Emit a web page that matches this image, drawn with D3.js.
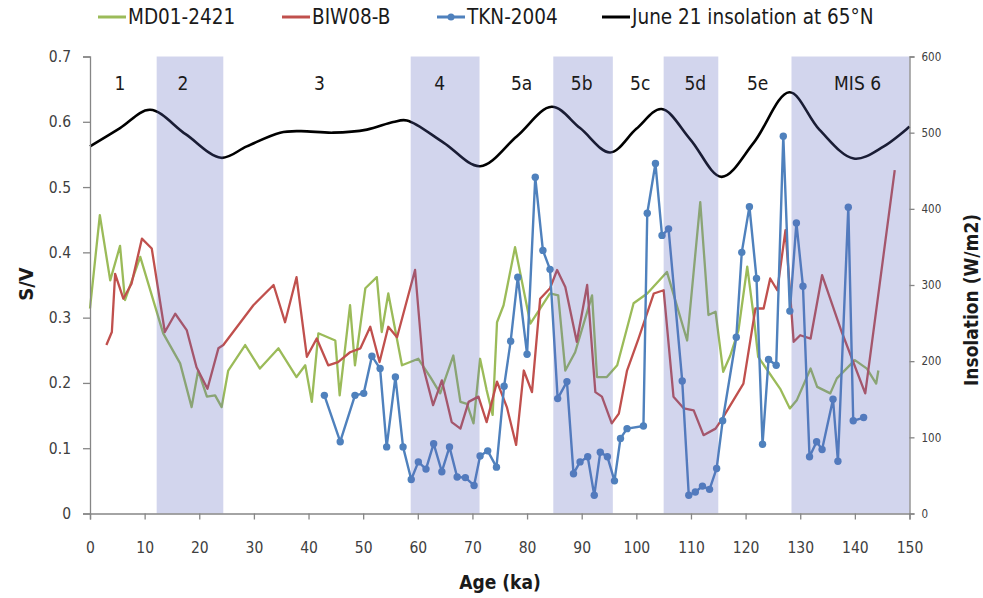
<!DOCTYPE html>
<html><head><meta charset="utf-8">
<script src="https://cdn.jsdelivr.net/npm/d3@7"></script>
<style>
body{margin:0;background:#fff;}
text{font-family:"Liberation Sans Narrow","DejaVu Sans Condensed","Roboto",sans-serif;}
</style></head>
<body><svg id="c" width="983" height="598"></svg>
<script>
// ---- data ----
const mdAge = [0,1.8,3.7,5.5,6.4,9.2,13.4,16.5,18.6,19.8,21.4,22.9,24.1,25.3,28.4,31.1,34.5,37.8,39.4,40.6,41.8,44.9,45.7,47.6,48.5,50.4,52.5,53.4,54.6,57.1,60.1,62.3,64.1,66.5,67.8,69,70.2,71.4,72.6,73.7,74.5,75.7,77.8,80.6,84.2,85.7,87,88.8,91.9,92.8,94.6,96.5,99.5,102,105.6,109.3,111.7,113.2,114.5,115.9,117.2,118.7,120.3,121.5,122.3,126.4,128.1,129.4,131.9,133.1,135.5,136.7,140,142.2,143.9,144.3];
const mdVal = [0.314,0.457,0.357,0.41,0.327,0.393,0.276,0.23,0.163,0.219,0.179,0.181,0.163,0.219,0.258,0.222,0.253,0.209,0.227,0.171,0.276,0.265,0.181,0.319,0.227,0.345,0.362,0.278,0.337,0.227,0.237,0.209,0.184,0.242,0.171,0.168,0.138,0.237,0.189,0.151,0.293,0.319,0.408,0.291,0.337,0.334,0.219,0.247,0.334,0.209,0.209,0.227,0.322,0.337,0.37,0.265,0.477,0.304,0.309,0.217,0.242,0.281,0.378,0.301,0.24,0.19,0.161,0.174,0.222,0.194,0.184,0.207,0.235,0.222,0.199,0.219];

const bwAge = [3,4,4.6,6.1,7.6,9.5,11.3,13.7,15.6,17.7,19.5,21.5,23.5,24.4,29.9,33.6,35.7,37.8,39.7,41.5,43.6,45.4,47.6,49.5,51.3,53,54.6,56.2,59.5,61,62.8,64.4,66.2,67.8,69.3,71.1,72.6,74.5,76.3,78,79.4,80.9,82.4,84.2,85.5,87,89.1,91,92.5,93.7,95.5,96.8,98.3,100.4,103.2,105,106.8,108.7,110.5,112.3,114.5,115.7,119.6,121.8,123.3,124.5,125.8,127.3,128.8,130,131.9,134,137.6,141.9,147.3];
const bwVal = [0.258,0.278,0.367,0.329,0.352,0.421,0.406,0.278,0.306,0.281,0.224,0.191,0.253,0.258,0.319,0.35,0.293,0.362,0.24,0.268,0.227,0.232,0.247,0.253,0.286,0.232,0.286,0.27,0.373,0.224,0.166,0.204,0.14,0.13,0.171,0.179,0.14,0.202,0.163,0.105,0.219,0.186,0.329,0.345,0.373,0.347,0.263,0.35,0.186,0.179,0.138,0.153,0.219,0.268,0.337,0.342,0.179,0.161,0.158,0.12,0.13,0.145,0.199,0.314,0.314,0.36,0.342,0.434,0.263,0.273,0.268,0.365,0.278,0.184,0.526];

const tkAge = [42.9,45.8,48.5,50.1,51.6,53.1,54.3,55.9,57.3,58.8,60.1,61.5,62.9,64.4,65.8,67.2,68.7,70.3,71.4,72.8,74.4,75.8,77,78.3,80,81.5,82.9,84.2,85.6,87.3,88.5,89.7,91.1,92.3,93.4,94.7,96,97.1,98.3,101.3,102,103.5,104.7,105.9,108.4,109.6,110.8,112.1,113.4,114.7,115.8,118.3,119.3,120.7,122,123.1,124.2,125.6,126.9,128.1,129.3,130.5,131.7,133,134,136,136.9,138.8,139.7,141.6];
const tkVal = [0.181,0.11,0.181,0.184,0.241,0.222,0.102,0.209,0.102,0.052,0.079,0.068,0.107,0.064,0.102,0.056,0.055,0.043,0.088,0.096,0.071,0.195,0.264,0.362,0.244,0.515,0.403,0.374,0.176,0.202,0.061,0.079,0.087,0.028,0.094,0.087,0.05,0.115,0.13,0.134,0.46,0.536,0.426,0.436,0.203,0.028,0.033,0.042,0.037,0.069,0.142,0.27,0.4,0.47,0.36,0.106,0.236,0.227,0.578,0.31,0.445,0.348,0.087,0.11,0.098,0.175,0.08,0.469,0.142,0.147];

const insAge = [0,5.5,11,17.5,24,28.7,34.8,38.5,44.5,50.7,55.5,58,64.7,71.4,78.1,84.5,89.7,95.2,100,104.6,109.9,115.6,121.5,128,133.5,139.8,145.3,150];
const insVal = [482,506,530,498,467,482,500,502,500,504,514,516,487,456,495,534,506,474,505,531,491,442,487,553,504,466,482,508];

const bandStart = [12.2,58.7,84.8,105,128.4];
const bandEnd   = [24.4,71.3,95.7,115,150];
const misLabels = ["1","2","3","4","5a","5b","5c","5d","5e","MIS 6"];
const misLabelAge = [5.5,17,42,64,79,90,100.7,110.8,122.2,140.5];

const xTicks = [0,10,20,30,40,50,60,70,80,90,100,110,120,130,140,150];
const yTicks = [0,0.1,0.2,0.3,0.4,0.5,0.6,0.7];
const y2Ticks = [0,100,200,300,400,500,600];

const seriesNames = ["MD01-2421","BIW08-B","TKN-2004","June 21 insolation at 65°N"];
const seriesColors = ["#9bbb59","#c0504d","#4f81bd","#000000"];

// ---- chart ----
const svg = d3.select("#c");
const x = d3.scaleLinear().domain([0,150]).range([90,909.5]);
const y = d3.scaleLinear().domain([0,0.7]).range([513.5,56.5]);
const y2 = d3.scaleLinear().domain([0,600]).range([513.5,56.5]);
const axisCol = "#868686";
const txtCol = "#404040";

const zip = (a,b)=>a.map((d,i)=>[d,b[i]]);

// series lines
const line = d3.line().x(d=>x(d[0])).y(d=>y(d[1]));
const gL = svg.append("g");
gL.append("path").datum(zip(mdAge,mdVal)).attr("d",line).attr("fill","none")
  .attr("stroke",seriesColors[0]).attr("stroke-width",2.3).attr("stroke-linejoin","round");
gL.append("path").datum(zip(bwAge,bwVal)).attr("d",line).attr("fill","none")
  .attr("stroke",seriesColors[1]).attr("stroke-width",2.3).attr("stroke-linejoin","round");
gL.append("path").datum(zip(tkAge,tkVal)).attr("d",line).attr("fill","none")
  .attr("stroke",seriesColors[2]).attr("stroke-width",2.4).attr("stroke-linejoin","round");
gL.selectAll("circle.tk").data(zip(tkAge,tkVal)).join("circle").attr("class","tk")
  .attr("cx",d=>x(d[0])).attr("cy",d=>y(d[1])).attr("r",3.7).attr("fill",seriesColors[2]);
const insLine = d3.line().x(d=>x(d[0])).y(d=>y2(d[1])).curve(d3.curveCatmullRom.alpha(0.5));
gL.append("path").datum(zip(insAge,insVal)).attr("d",insLine).attr("fill","none")
  .attr("stroke",seriesColors[3]).attr("stroke-width",2.6);

// bands (overlay, semi-transparent like the original)
svg.append("g").selectAll("rect").data(bandStart.map((s,i)=>[s,bandEnd[i]])).join("rect")
  .attr("x",d=>x(d[0])).attr("width",d=>x(d[1])-x(d[0]))
  .attr("y",y(0.7)).attr("height",y(0)-y(0.7))
  .attr("fill","rgb(95,105,190)").attr("fill-opacity",0.28);

// MIS labels
svg.append("g").selectAll("text").data(misLabels).join("text")
  .attr("x",(d,i)=>x(misLabelAge[i])).attr("y",90).attr("text-anchor","middle")
  .attr("font-size",19).attr("fill","#1a1a1a").text(d=>d);

// axes
const gx = svg.append("g").attr("transform",`translate(0,${y(0)})`)
  .call(d3.axisBottom(x).tickValues(xTicks).tickSize(6).tickPadding(22).tickFormat(d3.format("d")));
const gy = svg.append("g").attr("transform",`translate(${x(0)},0)`)
  .call(d3.axisLeft(y).tickValues(yTicks).tickSize(7).tickPadding(12).tickFormat(d=>d===0?"0":d3.format(".1f")(d)));
const gy2 = svg.append("g").attr("transform",`translate(${x(150)},0)`)
  .call(d3.axisRight(y2).tickValues(y2Ticks).tickSize(5).tickPadding(7).tickFormat(d3.format("d")));
[gx,gy,gy2].forEach(g=>{
  g.select(".domain").attr("stroke",axisCol).attr("stroke-width",1.3);
  g.selectAll(".tick line").attr("stroke",axisCol).attr("stroke-width",1.3);
  g.selectAll(".tick text").attr("fill",txtCol).attr("font-family",'"Liberation Sans Narrow","DejaVu Sans Condensed",sans-serif');
});
gx.selectAll(".tick text").attr("font-size",15.5);
gy.selectAll(".tick text").attr("font-size",15.5);
gy2.selectAll(".tick text").attr("font-size",11.5);

// axis titles
svg.append("text").attr("x",500).attr("y",589).attr("text-anchor","middle")
  .attr("font-size",19).attr("font-weight","bold").attr("fill","#1a1a1a").text("Age (ka)");
svg.append("text").attr("transform","translate(33,284) rotate(-90)").attr("text-anchor","middle")
  .attr("font-size",20).attr("font-weight","bold").attr("fill","#1a1a1a").text("S/V");
svg.append("text").attr("transform","translate(978,300) rotate(-90)").attr("text-anchor","middle")
  .attr("font-size",19).attr("font-weight","bold").attr("fill","#1a1a1a").text("Insolation (W/m2)");

// legend
const legX = [98,282,437,602];
const lg = svg.append("g");
seriesNames.forEach((n,i)=>{
  const g = lg.append("g").attr("transform",`translate(${legX[i]},17)`);
  g.append("line").attr("x1",0).attr("x2",28).attr("stroke",seriesColors[i]).attr("stroke-width",3);
  if(i===2) g.append("circle").attr("cx",14).attr("r",3.5).attr("fill",seriesColors[i]);
  g.append("text").attr("x",30).attr("y",7).attr("font-size",20.5).attr("fill","#1a1a1a").text(n);
});
</script></body></html>
